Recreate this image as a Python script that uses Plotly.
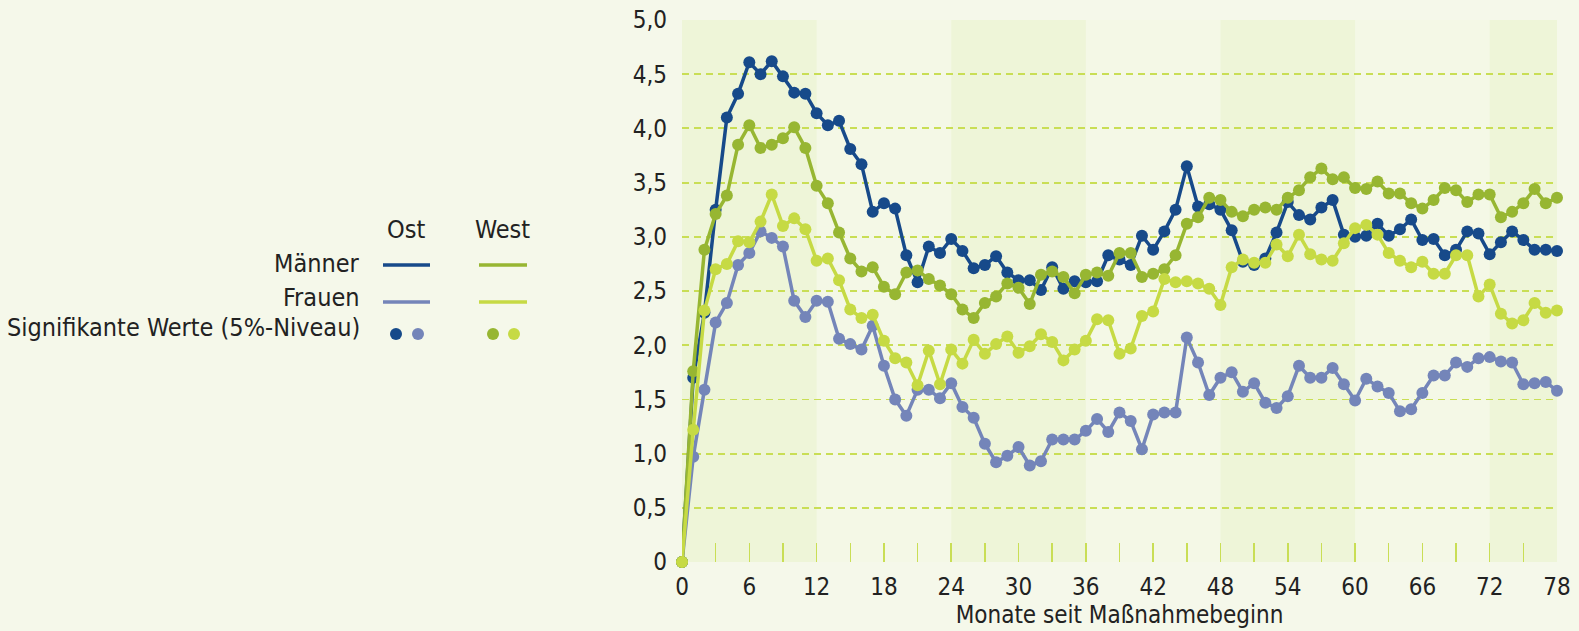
import plotly.graph_objects as go

months = list(range(0, 79))

maenner_ost = [0, 1.70, 2.30, 3.25, 4.10, 4.32, 4.61, 4.50, 4.62, 4.48,
               4.33, 4.32, 4.14, 4.03, 4.07, 3.81, 3.67, 3.23, 3.31, 3.26,
               2.83, 2.58, 2.91, 2.85, 2.98, 2.87, 2.71, 2.74, 2.82, 2.67,
               2.60, 2.60, 2.51, 2.72, 2.52, 2.59, 2.58, 2.59, 2.83, 2.79,
               2.74, 3.01, 2.88, 3.05, 3.25, 3.65, 3.28, 3.30, 3.25, 3.06,
               2.77, 2.74, 2.80, 3.04, 3.32, 3.20, 3.16, 3.27, 3.34, 3.02,
               3.00, 3.01, 3.12, 3.01, 3.07, 3.16, 2.97, 2.98, 2.83, 2.88,
               3.05, 3.03, 2.84, 2.95, 3.05, 2.97, 2.88, 2.88, 2.87]

frauen_ost = [0, 0.97, 1.59, 2.21, 2.39, 2.74, 2.85, 3.05, 2.99, 2.91,
              2.41, 2.26, 2.41, 2.40, 2.06, 2.01, 1.96, 2.18, 1.81, 1.50,
              1.35, 1.59, 1.59, 1.51, 1.65, 1.43, 1.33, 1.09, 0.92, 0.98,
              1.06, 0.89, 0.93, 1.13, 1.13, 1.13, 1.21, 1.32, 1.20, 1.38,
              1.30, 1.04, 1.36, 1.38, 1.38, 2.07, 1.84, 1.54, 1.70, 1.75,
              1.57, 1.65, 1.47, 1.42, 1.53, 1.81, 1.70, 1.70, 1.79, 1.64,
              1.49, 1.69, 1.62, 1.56, 1.39, 1.41, 1.56, 1.72, 1.72, 1.84,
              1.80, 1.88, 1.89, 1.85, 1.84, 1.64, 1.65, 1.66, 1.58]

maenner_west = [0, 1.76, 2.88, 3.21, 3.38, 3.85, 4.03, 3.82, 3.85, 3.91,
                4.01, 3.82, 3.47, 3.31, 3.04, 2.80, 2.68, 2.72, 2.54, 2.47,
                2.67, 2.69, 2.61, 2.55, 2.47, 2.33, 2.25, 2.39, 2.45, 2.57,
                2.53, 2.38, 2.65, 2.68, 2.63, 2.48, 2.65, 2.67, 2.64, 2.85,
                2.85, 2.63, 2.66, 2.70, 2.83, 3.12, 3.18, 3.36, 3.34, 3.23,
                3.19, 3.25, 3.27, 3.25, 3.36, 3.43, 3.55, 3.63, 3.53, 3.55,
                3.45, 3.44, 3.51, 3.40, 3.40, 3.31, 3.26, 3.34, 3.45, 3.43,
                3.32, 3.39, 3.39, 3.18, 3.23, 3.31, 3.44, 3.31, 3.36]

frauen_west = [0, 1.22, 2.32, 2.70, 2.75, 2.96, 2.95, 3.14, 3.39, 3.10,
               3.17, 3.07, 2.78, 2.80, 2.60, 2.33, 2.25, 2.28, 2.04, 1.88,
               1.84, 1.63, 1.95, 1.64, 1.96, 1.83, 2.05, 1.92, 2.01, 2.08,
               1.93, 1.99, 2.10, 2.03, 1.86, 1.96, 2.04, 2.24, 2.23, 1.92,
               1.97, 2.27, 2.31, 2.61, 2.58, 2.59, 2.57, 2.52, 2.37, 2.72,
               2.79, 2.76, 2.76, 2.93, 2.82, 3.02, 2.84, 2.79, 2.78, 2.94,
               3.08, 3.11, 3.02, 2.85, 2.78, 2.72, 2.77, 2.66, 2.66, 2.83,
               2.83, 2.45, 2.56, 2.29, 2.20, 2.23, 2.39, 2.30, 2.32]

y_ticks = [0, 0.5, 1.0, 1.5, 2.0, 2.5, 3.0, 3.5, 4.0, 4.5, 5.0]
y_tick_labels = ["0", "0,5", "1,0", "1,5", "2,0", "2,5", "3,0", "3,5", "4,0", "4,5", "5,0"]
x_ticks = list(range(0, 79, 3))
x_tick_labels = [str(v) if v % 6 == 0 else "" for v in x_ticks]
bands = [(0, 12), (24, 36), (48, 60), (72, 78)]

C_MO = "#174a8a"
C_FO = "#7485b9"
C_MW = "#97b632"
C_FW = "#c6da44"
GRID = "#c9de55"
BG = "#f5f8ea"
FONT = "DejaVu Sans Condensed, Liberation Sans Narrow, Roboto, sans-serif"

fig = go.Figure()
series = [("Frauen Ost", frauen_ost, C_FO),
          ("Männer Ost", maenner_ost, C_MO),
          ("Männer West", maenner_west, C_MW),
          ("Frauen West", frauen_west, C_FW)]
for name, vals, col in series:
    fig.add_trace(go.Scatter(x=months, y=vals, name=name, mode="lines+markers",
                             line=dict(color=col, width=3.5),
                             marker=dict(color=col, size=12),
                             cliponaxis=False, showlegend=False))

shapes = []
for a, b in bands:
    shapes.append(dict(type="rect", xref="x", yref="paper", x0=a, x1=b, y0=0, y1=1,
                       fillcolor="#eef5d8", line=dict(width=0), layer="below"))

W, H = 1579, 631
ml, mr, mt, mb = 682, 22, 20, 69
pw, ph = W - ml - mr, H - mt - mb

def px(x):
    return (x - ml) / pw

def py(y):
    return (H - mb - y) / ph

def pline(x0, x1, y, col):
    return dict(type="line", xref="paper", yref="paper", x0=px(x0), x1=px(x1),
                y0=py(y), y1=py(y), line=dict(color=col, width=3.5))

shapes += [pline(383, 430, 265, C_MO),
           pline(479, 527, 265, C_MW),
           pline(383, 430, 302, C_FO),
           pline(479, 527, 302, C_FW)]
for cx, col in [(396, C_MO), (418, C_FO), (493, C_MW), (514, C_FW)]:
    shapes.append(dict(type="circle", xref="paper", yref="paper",
                       x0=px(cx - 6), x1=px(cx + 6), y0=py(334 + 6), y1=py(334 - 6),
                       fillcolor=col, line=dict(width=0)))

annotations = []
def ptext(t, x, y, anchor):
    annotations.append(dict(text=t, xref="paper", yref="paper", x=px(x), y=py(y),
                            xanchor=anchor, yanchor="middle", showarrow=False,
                            font=dict(family=FONT, size=25, color="#222222")))

ptext("Ost", 406, 230, "center")
ptext("West", 502, 230, "center")
ptext("Männer", 362, 263, "right")
ptext("Frauen", 362, 297, "right")
ptext("Signifikante Werte (5%-Niveau)", 362, 327, "right")

fig.update_layout(
    width=W, height=H,
    margin=dict(l=ml, r=mr, t=mt, b=mb, autoexpand=False),
    paper_bgcolor=BG, plot_bgcolor="#f4f8e6",
    shapes=shapes, annotations=annotations,
    hovermode=False,
    font=dict(family=FONT, size=24, color="#222222"),
    xaxis=dict(range=[0, 78], tickvals=x_ticks, ticktext=x_tick_labels,
               ticks="inside", ticklen=19, tickcolor=GRID, tickwidth=1.5,
               showgrid=False, zeroline=False, showline=False, automargin=False,
               tickfont=dict(size=24), ticklabelstandoff=8,
               title=dict(text="Monate seit Maßnahmebeginn", font=dict(size=24), standoff=2)),
    yaxis=dict(range=[0, 5.0], tickvals=y_ticks, ticktext=y_tick_labels,
               showgrid=True, gridcolor=GRID, griddash="7px,5px", gridwidth=1.8,
               zeroline=False, showline=False, ticks="", tickfont=dict(size=24),
               ticklabelstandoff=14, automargin=False),
)

fig.write_html("out.html",
               config={"displayModeBar": False, "staticPlot": True},
               post_script="document.body.style.margin='0';"
                           "document.body.style.overflow='hidden';"
                           "document.body.style.background='" + BG + "';")
